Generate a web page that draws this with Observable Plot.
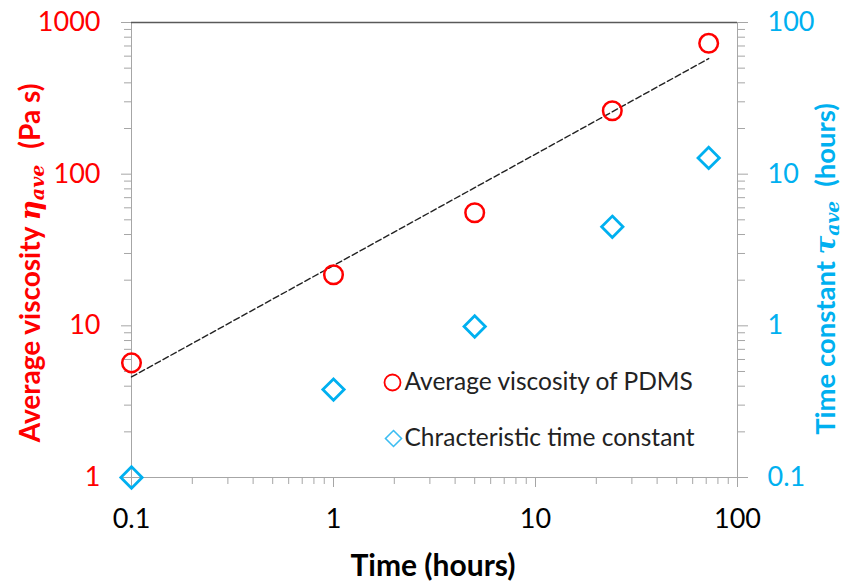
<!DOCTYPE html>
<html><head><meta charset="utf-8">
<script src="https://cdn.jsdelivr.net/npm/d3@7"></script>
<script src="https://cdn.jsdelivr.net/npm/@observablehq/plot@0.6"></script>
<style>body{margin:0;background:#fff;} svg{display:block;}</style>
</head><body><div id="chart"></div>
<script>
const times = [0.1, 1, 5, 24, 72];
const viscosity = [5.7, 21.7, 55.7, 262, 729];
const timeConstant = [0.1, 0.38, 0.99, 4.5, 12.8];
const fitTimes = [0.1, 72];
const fitViscosity = [4.6, 578];
const xTicks = [0.1, 1, 10, 100];
const leftTicks = [1, 10, 100, 1000];
const rightTicks = [0.1, 1, 10, 100];
const legendLabels = ["Average viscosity of PDMS", "Chracteristic time constant"];

const RED = "#FF0000", BLUE = "#00B0F0", AXIS = "#A6A6A6";
const ratio = leftTicks[0] / rightTicks[0];
const minor = majors => majors.slice(0, -1).flatMap(m => d3.range(2, 10).map(k => +(m * k).toPrecision(3)));
const fmt = d => String(+d.toPrecision(3));

const points = times.map((t, i) => ({t, eta: viscosity[i], tau: timeConstant[i]}));
const fit = fitTimes.map((t, i) => ({t, eta: fitViscosity[i]}));

const plot = Plot.plot({
  width: 842, height: 582,
  marginLeft: 131, marginRight: 105, marginTop: 22, marginBottom: 105,
  x: {type: "log", domain: [0.1, 100]},
  y: {type: "log", domain: [1, 1000]},
  style: {fontFamily: "Lato, sans-serif", background: "#fff", overflow: "visible"},
  marks: [
    Plot.axisX(minor(xTicks), {anchor: "bottom", tickSize: 7, tickFormat: () => "", label: null, stroke: AXIS}),
    Plot.axisX(xTicks, {anchor: "bottom", tickSize: 10, tickPadding: 21, tickFormat: fmt, fontSize: 27, stroke: AXIS, fill: "#000", label: null}),
    Plot.axisY(minor(leftTicks), {anchor: "left", tickSize: 7, tickFormat: () => "", label: null, stroke: AXIS}),
    Plot.axisY(leftTicks, {anchor: "left", tickSize: 10, tickPadding: 21, tickFormat: fmt, fontSize: 27, stroke: AXIS, fill: RED, label: null}),
    Plot.axisY(minor(rightTicks).map(v => v * ratio), {anchor: "right", tickSize: 7, tickFormat: () => "", label: null, stroke: AXIS}),
    Plot.axisY(rightTicks.map(v => v * ratio), {anchor: "right", tickSize: 10, tickPadding: 20, tickFormat: d => fmt(d / ratio), fontSize: 27, stroke: AXIS, fill: BLUE, label: null}),
    Plot.ruleY([leftTicks[0]], {stroke: AXIS}),
    Plot.ruleX([xTicks[0]], {stroke: AXIS}),
    Plot.ruleX([xTicks[xTicks.length - 1]], {stroke: AXIS}),
    Plot.ruleY([leftTicks[leftTicks.length - 1]], {stroke: "#595959", strokeWidth: 1.3}),
    Plot.line(fit, {x: "t", y: "eta", stroke: "#222", strokeWidth: 1.4, strokeDasharray: "6,3"}),
    Plot.dot(points, {x: "t", y: "eta", r: 9.3, stroke: RED, strokeWidth: 2.5, fill: "none"}),
    Plot.dot(points, {x: "t", y: d => d.tau * ratio, symbol: "diamond2", r: 9.6, stroke: BLUE, strokeWidth: 2.8, fill: "none"}),
    Plot.dot([0], {frameAnchor: "top-left", dx: 261, dy: 360, r: 8, stroke: RED, strokeWidth: 1.8, fill: "none"}),
    Plot.dot([0], {frameAnchor: "top-left", dx: 262, dy: 416, symbol: "diamond2", r: 7.2, stroke: "#3CBDF2", strokeWidth: 1.6, fill: "none"}),
    Plot.text([legendLabels[0]], {frameAnchor: "top-left", lineAnchor: "middle", dx: 273, dy: 360, text: d => d, textAnchor: "start", fontSize: 24.5, fill: "#222"}),
    Plot.text([legendLabels[1]], {frameAnchor: "top-left", lineAnchor: "middle", dx: 273, dy: 416, text: d => d, textAnchor: "start", fontSize: 24.5, fill: "#222"})
  ]
});
document.getElementById("chart").appendChild(plot);

const svg = d3.select(plot);
function axisLabel(tx, ty, size, gap, color, pre, sym, sub, post) {
  const t = svg.append("text")
    .attr("transform", `translate(${tx},${ty}) rotate(-90)`)
    .attr("text-anchor", "middle").attr("dy", "0.35em")
    .attr("fill", color).attr("font-family", "Lato, sans-serif")
    .attr("font-weight", "bold").attr("font-size", size);
  t.append("tspan").text(pre);
  t.append("tspan").attr("font-family", "DejaVu Serif, serif").attr("font-style", "italic").text(sym);
  t.append("tspan").attr("font-family", "DejaVu Serif, serif").attr("font-style", "italic").attr("font-size", size * 0.68).attr("dy", 4).text(sub);
  t.append("tspan").attr("dy", -4).attr("dx", gap).text(post);
}
axisLabel(30, 263, 28, 16, RED, "Average viscosity ", "η", "ave", "(Pa s)");
axisLabel(825, 269, 27.5, 14, BLUE, "Time constant ", "τ", "ave", "(hours)");
svg.append("text").attr("x", 433).attr("y", 565).attr("dy", "0.35em")
  .attr("text-anchor", "middle").attr("font-family", "Lato, sans-serif")
  .attr("font-weight", "bold").attr("font-size", 30).attr("fill", "#000").text("Time (hours)");
</script>
</body></html>
